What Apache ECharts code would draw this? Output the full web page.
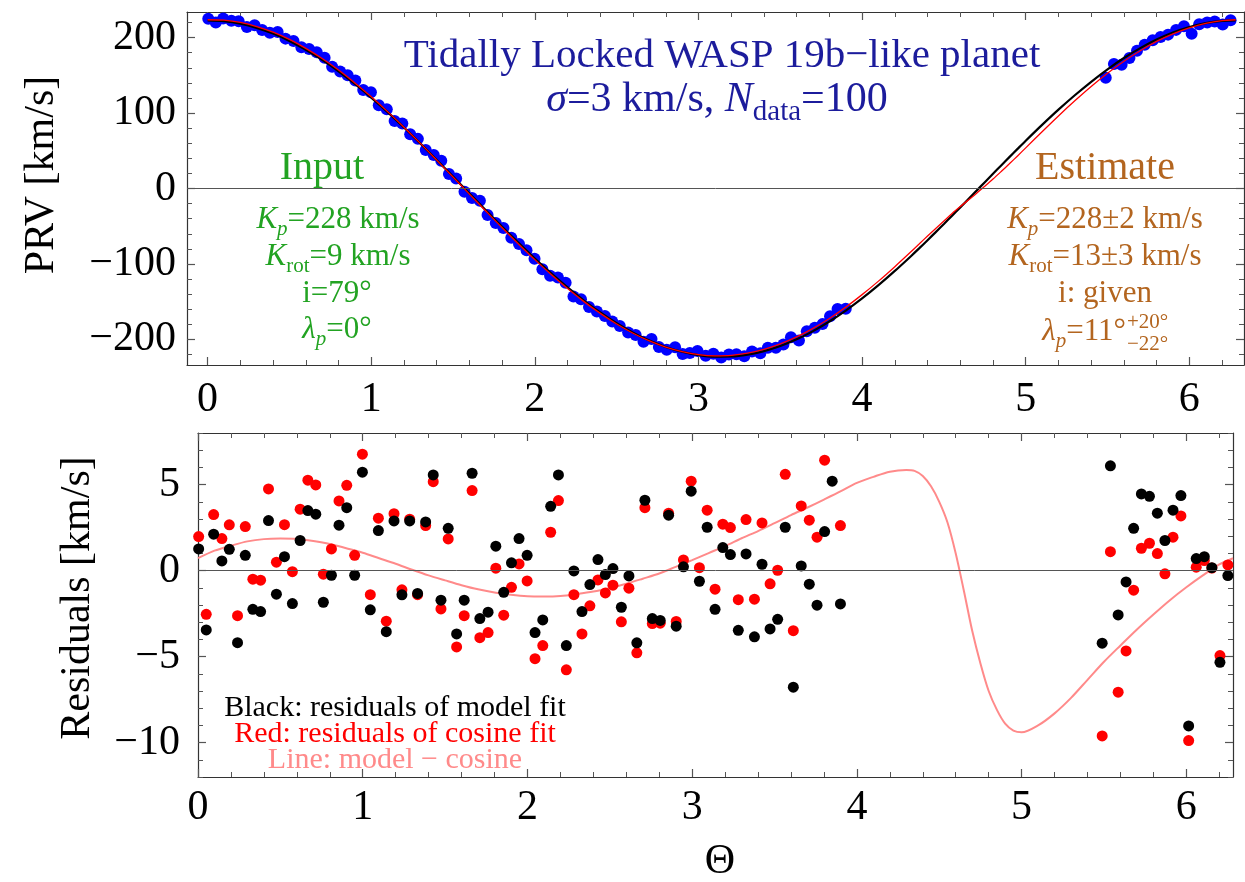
<!DOCTYPE html>
<html><head><meta charset="utf-8">
<script src="https://cdn.jsdelivr.net/npm/echarts@6/dist/echarts.min.js"></script>
<style>html,body{margin:0;padding:0;background:#fff}#c{width:1245px;height:882px}</style>
</head><body><div id="c"></div>
<script>
// ---------- data ----------
const theta = [0.004,0.05,0.095,0.145,0.19,0.24,0.287,0.333,0.38,0.428,
0.476,0.525,0.573,0.62,0.667,0.715,0.761,0.81,0.856,0.903,
0.951,0.998,1.046,1.095,1.143,1.19,1.238,1.285,1.333,1.382,
1.428,1.475,1.519,1.57,1.616,1.664,1.711,1.761,1.808,1.856,
1.903,1.949,1.998,2.046,2.093,2.141,2.188,2.236,2.282,2.331,
2.379,2.428,2.473,2.519,2.57,2.616,2.664,2.713,2.758,2.806,
2.857,2.903,2.947,2.994,3.044,3.091,3.139,3.186,3.232,3.28,
3.327,3.378,3.424,3.473,3.519,3.565,3.614,3.662,3.711,3.758,
3.804,3.85,3.9,
5.489,5.539,5.586,5.634,5.68,5.727,5.776,5.824,5.87,5.919,5.967,6.014,6.06,6.109,6.155,6.204,6.252];

const prv = [225.0,220.2,225.3,222.5,221.7,214.0,216.4,210.2,206.5,207.6,
198.7,195.6,187.3,185.1,180.5,173.4,161.3,155.0,150.2,143.1,
130.5,127.6,110.3,105.2,89.5,86.2,71.8,65.8,51.1,44.5,
36.9,19.1,13.3,-4.2,-12.7,-16.1,-35.1,-45.8,-52.3,-65.4,
-73.7,-82.0,-93.0,-107.2,-115.6,-118.1,-124.9,-143.2,-146.8,-157.1,
-163.1,-169.0,-176.3,-182.2,-190.9,-194.3,-203.2,-199.4,-210.1,-213.7,
-210.6,-219.5,-218.0,-215.3,-221.8,-219.2,-224.1,-220.1,-219.6,-222.5,
-216.0,-218.3,-211.1,-211.2,-206.8,-197.1,-201.5,-189.2,-184.5,-179.8,
-169.4,-159.8,-159.3,
146.7,165.2,163.9,172.9,182.6,190.7,196.5,200.9,204.0,210.3,215.1,205.1,217.7,220.2,221.4,217.4,223.2];

const resModel = [1.26,-3.45,2.12,0.56,1.24,-4.19,0.89,-2.25,-2.38,2.91,
-1.37,0.81,-1.92,1.75,3.49,3.28,-1.84,-0.27,2.64,3.66,
-0.27,5.72,-2.28,2.33,-3.55,2.89,-1.41,2.89,-1.33,2.83,
5.56,-1.72,2.46,-3.68,-1.72,5.66,-2.79,-2.42,1.42,-1.26,
0.45,1.86,0.89,-3.6,-2.87,3.74,5.56,-4.36,-0.02,-2.38,
-0.81,0.64,-0.23,0.12,-2.13,-0.31,-4.2,4.09,-2.79,-2.9,
3.22,-3.23,0.22,4.62,-0.62,2.52,-2.25,1.34,0.93,-3.47,
0.97,-3.85,0.37,-3.39,-2.83,2.52,-6.78,0.27,-0.79,-2.01,
2.27,5.2,-1.94,
-4.22,6.09,-2.58,-0.66,2.46,4.46,4.32,3.34,1.75,3.51,4.36,-9.03,0.7,0.81,0.17,-5.33,-0.29];

const resCosine = [1.98,-2.54,3.26,1.86,2.66,-2.62,2.56,-0.5,-0.56,4.75,
0.49,2.67,-0.06,3.57,5.26,4.98,-0.21,1.26,4.05,4.96,
0.89,6.77,-1.4,3.05,-2.94,3.31,-1.12,2.99,-1.4,2.62,
5.17,-2.23,1.84,-4.44,-2.62,4.65,-3.9,-3.6,0.14,-2.59,
-0.97,0.39,-0.6,-5.12,-4.36,2.23,4.07,-5.77,-1.4,-3.68,
-2.05,-0.54,-1.3,-0.85,-2.98,-1.02,-4.78,3.66,-3.08,-3.06,
3.34,-2.96,0.62,5.2,0.17,3.51,-1.08,2.7,2.5,-1.69,
2.97,-1.66,2.77,-0.77,0.02,5.6,-3.49,3.76,2.93,1.94,
6.42,9.8,2.62,
-9.61,1.1,-7.07,-4.67,-1.14,1.3,1.59,0.99,-0.19,1.94,3.18,-9.88,0.2,0.58,0.15,-4.94,0.33];

const curveTheta = [0,0.1,0.2,0.3,0.4,0.5,0.6,0.7,0.8,0.9,1.0,1.1,1.2,1.3,1.4,1.5,1.6,1.7,1.8,1.9,
2.0,2.1,2.2,2.3,2.4,2.5,2.6,2.7,2.8,2.9,3.0,3.1,3.2,3.3,3.4,3.5,3.6,3.7,3.8,3.9,
4.0,4.1,4.2,4.3,4.35,4.4,4.45,4.5,4.55,4.6,4.65,4.7,4.75,4.8,4.85,4.9,4.95,5.0,
5.1,5.2,5.3,5.4,5.5,5.6,5.7,5.8,5.9,6.0,6.1,6.2,6.2832];

const cosineCurve = [223.0,221.9,218.6,213.0,205.4,195.7,184.0,170.6,155.4,138.6,120.5,101.2,80.8,59.7,37.9,15.8,-6.5,-28.7,-50.7,-72.1,
-92.8,-112.6,-131.2,-148.6,-164.4,-178.7,-191.1,-201.6,-210.1,-216.5,-220.8,-222.8,-222.6,-220.2,-215.6,-208.8,-200.0,-189.1,-176.4,-161.9,
-145.8,-128.2,-109.3,-89.4,-79.1,-68.5,-57.8,-47.0,-36.0,-25.0,-13.9,-2.8,8.4,19.5,30.6,41.6,52.5,63.3,
84.3,104.5,123.6,141.5,158.0,173.0,186.1,197.5,206.8,214.1,219.3,222.2,223.0];

const modelCurve = [223.7,223.1,220.1,214.7,207.2,197.6,185.8,172.3,157.0,139.9,121.5,101.9,81.2,59.8,37.6,15.2,-7.4,-29.8,-52.0,-73.5,
-94.3,-114.1,-132.7,-150.0,-165.6,-179.7,-191.9,-202.1,-210.3,-216.3,-220.2,-221.8,-221.2,-218.3,-213.3,-206.0,-196.8,-185.4,-172.3,-157.3,
-140.7,-122.8,-103.6,-83.6,-73.3,-63.0,-52.9,-43.0,-33.2,-24.0,-15.1,-6.3,3.0,12.5,22.5,32.7,43.2,53.9,
75.3,96.2,116.2,135.2,152.7,168.7,182.7,195.0,205.1,213.1,219.0,222.6,223.7];

const diffCurve = [0.72,1.16,1.45,1.70,1.83,1.86,1.84,1.72,1.55,1.30,1.04,0.72,0.40,0.05,-0.28,-0.57,-0.85,-1.09,-1.27,-1.41,
-1.49,-1.50,-1.47,-1.36,-1.22,-1.01,-0.76,-0.47,-0.17,0.22,0.61,1.02,1.42,1.88,2.30,2.76,3.23,3.67,4.13,4.60,
5.10,5.45,5.75,5.85,5.80,5.50,4.90,4.00,2.80,1.00,-1.20,-3.50,-5.40,-7.00,-8.10,-8.90,-9.30,-9.40,
-9.00,-8.30,-7.40,-6.35,-5.30,-4.35,-3.42,-2.55,-1.72,-0.97,-0.28,0.36,0.72];

const xTicks = [0,1,2,3,4,5,6];
const prvTicks = [-200,-100,0,100,200];
const resTicks = [-10,-5,0,5];

// ---------- helpers ----------
const F = 'Liberation Serif';
const pairs = (xs, ys) => xs.map((x, i) => [x, ys[i]]);
function steps(a, b, s) { const r = []; for (let v = a; v <= b + 1e-9; v += s) r.push(+v.toFixed(4)); return r; }
const fmt = v => (v < 0 ? '\u2212' + (-v) : '' + v);

function axes(gridIndex, min, max, majors, minors, sideA, sideB, labelMargin) {
  const base = {type: 'value', gridIndex, min, max, splitLine: {show: false}, axisPointer: {show: false}};
  const major = (pos, lab) => Object.assign({}, base, {
    position: pos,
    axisLine: {show: true, onZero: false, lineStyle: {color: '#333', width: 1.2}},
    axisTick: {show: true, inside: true, length: 8, customValues: majors, lineStyle: {color: '#555', width: 1.2}},
    axisLabel: {show: lab, customValues: majors, margin: labelMargin, fontFamily: F, fontSize: 42, color: '#000', formatter: fmt}
  });
  const minor = pos => Object.assign({}, base, {
    position: pos,
    axisLine: {show: false, onZero: false},
    axisTick: {show: true, inside: true, length: 5, customValues: minors, lineStyle: {color: '#555', width: 1}},
    axisLabel: {show: false}
  });
  return [major(sideA, true), minor(sideA), major(sideB, false), minor(sideB)];
}

const xA1 = axes(0, -0.126, 6.334, xTicks, steps(0, 6.2, 0.2), 'bottom', 'top', 14);
const yA1 = axes(0, -234, 234, prvTicks, steps(-220, 220, 20), 'left', 'right', 11);
const xA2 = axes(1, 0, 6.2832, xTicks, steps(0, 6.2, 0.2), 'bottom', 'top', 10);
const yA2 = axes(1, -12, 8, resTicks, steps(-12, 8, 1), 'left', 'right', 18);

const zeroLine = {silent: true, symbol: 'none', label: {show: false},
  lineStyle: {color: '#555', width: 1, type: 'solid'}, data: [{yAxis: 0}]};

const navy = '#1c1c9c', green = '#22a322', brown = '#b3651f';
const font = (s, it) => (it ? 'italic ' : '') + s + 'px ' + F;
function richSet(size, color) {
  const sub = Math.round(size * 0.68);
  return {
    i: {font: font(size, true), fill: color},
    s: {font: font(sub), fill: color, verticalAlign: 'bottom', lineHeight: Math.round(size * 1.25)},
    si: {font: font(sub, true), fill: color, verticalAlign: 'bottom', lineHeight: Math.round(size * 1.25)}
  };
}
function txt(x, y, text, size, color, extra) {
  return Object.assign({type: 'text', x, y, silent: true,
    style: {text, font: font(size), fill: color, align: 'center', verticalAlign: 'middle', rich: richSet(size, color)}}, extra || {});
}

const graphic = [
  txt(722, 56, 'Tidally Locked WASP 19b\u2212like planet', 41, navy),
  txt(717, 100, '{i|\u03c3}=3 km/s, {i|N}{s|data}=100', 42, navy),
  txt(322, 168, 'Input', 40, green),
  txt(338, 220, '{i|K}{si|p}=228 km/s', 31, green),
  txt(338, 257, '{i|K}{s|rot}=9 km/s', 31, green),
  txt(337, 294, 'i=79\u00b0', 31, green),
  txt(337, 330, '{i|\u03bb}{si|p}=0\u00b0', 31, green),
  txt(1105, 168, 'Estimate', 40, brown),
  txt(1105, 220, '{i|K}{si|p}=228\u00b12 km/s', 31, brown),
  txt(1105, 257, '{i|K}{s|rot}=13\u00b13 km/s', 31, brown),
  txt(1105, 294, 'i: given', 31, brown),
  txt(1126, 332, '{i|\u03bb}{si|p}=11\u00b0', 31, brown),
  txt(1127, 322, '+20\u00b0', 21, brown),
  txt(1127, 344, '\u221222\u00b0', 21, brown),
  txt(395, 708, 'Black: residuals of model fit', 30, '#000'),
  txt(395, 734, 'Red: residuals of cosine fit', 30, '#ff0000'),
  txt(395, 760, 'Line: model \u2212 cosine', 30, '#ff8a8a'),
  txt(42, 175, 'PRV [km/s]', 42, '#000', {rotation: Math.PI / 2}),
  txt(78, 598, 'Residuals [km/s]', 42, '#000', {rotation: Math.PI / 2}),
  txt(720, 862, '\u0398', 42, '#000')
];
// right/left alignment for the split lambda label
graphic[11].style.align = 'right';
graphic[12].style.align = 'left';
graphic[13].style.align = 'left';

const chart = echarts.init(document.getElementById('c'), null, {renderer: 'canvas'});
chart.setOption({
  animation: false,
  backgroundColor: '#fff',
  grid: [
    {left: 187, right: 1, top: 12, height: 353, containLabel: false, outerBoundsMode: 'none'},
    {left: 198, right: 12, top: 433, height: 344, containLabel: false, outerBoundsMode: 'none'}
  ],
  xAxis: xA1.concat(xA2),
  yAxis: yA1.concat(yA2),
  series: [
    {type: 'scatter', name: 'data', xAxisIndex: 0, yAxisIndex: 0, data: pairs(theta, prv),
     symbolSize: 12, itemStyle: {color: '#0000ff', opacity: 1}, z: 2, markLine: zeroLine},
    {type: 'line', name: 'cosine', xAxisIndex: 0, yAxisIndex: 0, data: pairs(curveTheta, cosineCurve),
     showSymbol: false, smooth: 0.3, lineStyle: {color: '#000', width: 2.2}, z: 3},
    {type: 'line', name: 'model', xAxisIndex: 0, yAxisIndex: 0, data: pairs(curveTheta, modelCurve),
     showSymbol: false, smooth: 0.3, lineStyle: {color: '#ff0000', width: 1.3}, z: 4},
    {type: 'line', name: 'diff', xAxisIndex: 4, yAxisIndex: 4, data: pairs(curveTheta, diffCurve),
     showSymbol: false, smooth: 0.3, lineStyle: {color: '#ff8a8a', width: 2}, z: 2, markLine: zeroLine},
    {type: 'scatter', name: 'red', xAxisIndex: 4, yAxisIndex: 4, data: pairs(theta, resCosine), clip: true,
     symbolSize: 11, itemStyle: {color: '#ff0000', opacity: 1}, z: 3},
    {type: 'scatter', name: 'black', xAxisIndex: 4, yAxisIndex: 4, data: pairs(theta, resModel), clip: true,
     symbolSize: 11, itemStyle: {color: '#000', opacity: 1}, z: 4}
  ],
  graphic
});
</script></body></html>
